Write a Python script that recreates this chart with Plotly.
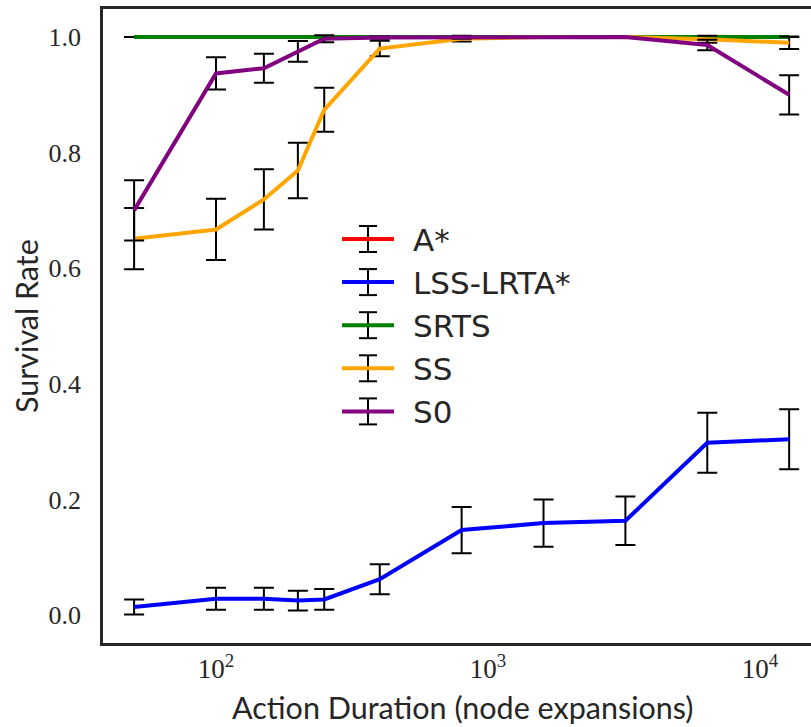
import plotly.graph_objects as go

# ---------------- data ----------------
action_duration = [50, 100, 150, 200, 250, 400, 800, 1600, 3200, 6400, 12800]
series_names = ["A*", "LSS-LRTA*", "SRTS", "SS", "S0"]
series_colors = ["#ff0000", "#0000ff", "#008000", "#ffa500", "#800080"]

astar_mean = [1.0, 1.0, 1.0, 1.0, 1.0, 1.0, 1.0, 1.0, 1.0, 1.0, 1.0]
astar_err = [0.0, 0.0, 0.0, 0.0, 0.0, 0.0, 0.0, 0.0, 0.0, 0.0, 0.0]

lss_mean = [0.014, 0.028, 0.028, 0.025, 0.027, 0.062, 0.147, 0.159, 0.163, 0.298, 0.304]
lss_err = [0.013, 0.019, 0.019, 0.017, 0.018, 0.026, 0.040, 0.041, 0.042, 0.052, 0.052]

srts_mean = [1.0, 1.0, 1.0, 1.0, 1.0, 1.0, 1.0, 1.0, 1.0, 1.0, 1.0]
srts_err = [0.0, 0.0, 0.0, 0.0, 0.0, 0.0, 0.0, 0.0, 0.0, 0.0, 0.0]

ss_mean = [0.651, 0.667, 0.719, 0.769, 0.874, 0.980, 0.997, 1.0, 1.0, 0.996, 0.990]
ss_err = [0.053, 0.053, 0.052, 0.048, 0.038, 0.0135, 0.005, 0.0, 0.0, 0.006, 0.011]

s0_mean = [0.700, 0.937, 0.946, 0.975, 0.997, 0.999, 0.999, 1.0, 1.0, 0.986, 0.900]
s0_err = [0.052, 0.028, 0.025, 0.018, 0.006, 0.002, 0.002, 0.0, 0.0, 0.009, 0.034]

means = [astar_mean, lss_mean, srts_mean, ss_mean, s0_mean]
errs = [astar_err, lss_err, srts_err, ss_err, s0_err]

x_tickvals = [100, 1000, 10000]
x_ticktext = ["10<sup>2</sup>", "10<sup>3</sup>", "10<sup>4</sup>"]
y_tickvals = [0.0, 0.2, 0.4, 0.6, 0.8, 1.0]
y_ticktext = ["0.0", "0.2", "0.4", "0.6", "0.8", "1.0"]

x_title = "Action Duration (node expansions)"
y_title = "Survival Rate"

# ---------------- layout geometry ----------------
W, H = 811, 727
L, R, T, B = 103, 0, 9, 84
PW, PH = W - L - R, H - T - B
TEXT = "#262626"
SANS = "Lato, 'Open Sans', sans-serif"
LEGSANS = "'DejaVu Sans', sans-serif"
SERIF = "'Liberation Serif', 'DejaVu Serif', serif"


def px_x(p):
    return (p - L) / PW


def px_y(p):
    return (H - B - p) / PH


fig = go.Figure()
for name, col, m, e in zip(series_names, series_colors, means, errs):
    fig.add_trace(go.Scatter(
        x=action_duration, y=m, name=name, mode="lines",
        line=dict(color=col, width=4),
        error_y=dict(type="data", array=e, visible=True, color="black",
                     thickness=2, width=10),
        showlegend=False,
    ))

# custom legend (icons with error bars)
shapes = []
annotations = []
leg_x0, leg_x1, leg_xc = 342, 394, 368
for i, (name, col) in enumerate(zip(series_names, series_colors)):
    yc = 239 + 43.1 * i
    shapes.append(dict(type="line", xref="paper", yref="paper", layer="above",
                       x0=px_x(leg_xc), x1=px_x(leg_xc), y0=px_y(yc - 13), y1=px_y(yc + 13),
                       line=dict(color="black", width=2)))
    for dy in (-13, 13):
        shapes.append(dict(type="line", xref="paper", yref="paper", layer="above",
                           x0=px_x(leg_xc - 9), x1=px_x(leg_xc + 9),
                           y0=px_y(yc + dy), y1=px_y(yc + dy),
                           line=dict(color="black", width=2)))
    shapes.append(dict(type="line", xref="paper", yref="paper", layer="above",
                       x0=px_x(leg_x0), x1=px_x(leg_x1), y0=px_y(yc), y1=px_y(yc),
                       line=dict(color=col, width=4)))
    annotations.append(dict(text=name, xref="paper", yref="paper", showarrow=False,
                            x=px_x(411), y=px_y(yc + 1), xanchor="left", yanchor="middle",
                            font=dict(family=LEGSANS, size=31, color=TEXT)))

annotations.append(dict(text=x_title, xref="paper", yref="paper", showarrow=False,
                        x=px_x(462), y=px_y(707), xanchor="center", yanchor="middle",
                        font=dict(family=SANS, size=30.5, color=TEXT)))
annotations.append(dict(text=y_title, xref="paper", yref="paper", showarrow=False,
                        x=px_x(26), y=px_y(326), xanchor="center", yanchor="middle",
                        textangle=-90,
                        font=dict(family=SANS, size=30.5, color=TEXT)))

fig.update_layout(
    width=W, height=H,
    margin=dict(l=L, r=R, t=T, b=B, pad=0),
    paper_bgcolor="white", plot_bgcolor="white",
    shapes=shapes, annotations=annotations,
    showlegend=False,
    xaxis=dict(type="log", range=[1.5846, 4.1875], tickvals=x_tickvals, ticktext=x_ticktext,
               showgrid=False, zeroline=False, showline=True, mirror=True,
               linecolor="#262626", linewidth=2.5, ticks="", ticklabelstandoff=0,
               tickfont=dict(family=SERIF, size=27, color=TEXT)),
    yaxis=dict(range=[-0.0484, 1.0484], tickvals=y_tickvals, ticktext=y_ticktext,
               showgrid=False, zeroline=False, showline=True, mirror=False,
               linecolor="#262626", linewidth=2.5, ticks="", ticklabelstandoff=14,
               tickfont=dict(family=SERIF, size=26, color=TEXT)),
)

fig.write_html("out.html")
